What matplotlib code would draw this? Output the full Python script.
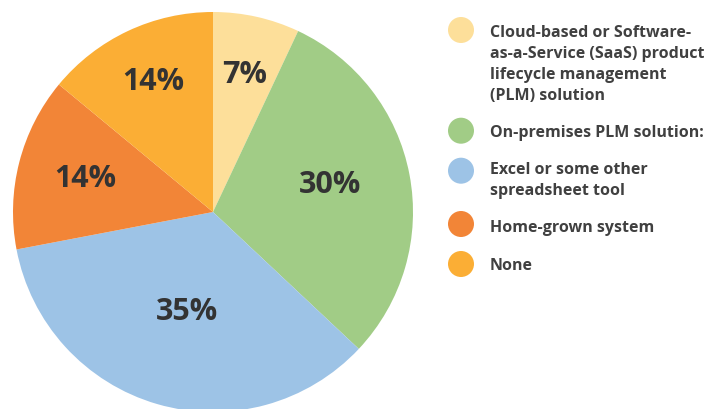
import matplotlib
matplotlib.use("Agg")
import matplotlib.pyplot as plt
import numpy as np

# data
labels = ["Cloud-based or Software-\nas-a-Service (SaaS) product\nlifecycle management\n(PLM) solution",
          "On-premises PLM solution:",
          "Excel or some other\nspreadsheet tool",
          "Home-grown system",
          "None"]
values = [7, 30, 35, 14, 14]
colors = ["#FDDF9A", "#A1CC86", "#9DC3E6", "#F28537", "#FBAE35"]

# label centres inside the pie (unit-radius coords)
label_pos = [(0.16, 0.695), (0.585, 0.145), (-0.128, -0.49), (-0.64, 0.175), (-0.30, 0.66)]

plt.rcParams['font.family'] = ['Open Sans', 'DejaVu Sans']
txt_col = "#333333"

W, H = 723, 409
fig = plt.figure(figsize=(W / 100, H / 100), dpi=100)

# pie, centre (213, 212) px from top-left, radius 200
cx, cy, r = 213, 212, 200
ax = fig.add_axes([(cx - r) / W, (H - cy - r) / H, 2 * r / W, 2 * r / H])
ax.pie(values, colors=colors, startangle=90, counterclock=False,
       wedgeprops=dict(linewidth=0), radius=1)
ax.set_xlim(-1, 1)
ax.set_ylim(-1, 1)
ax.set_aspect('equal')
ax.axis('off')

for v, (x, y) in zip(values, label_pos):
    # baseline placed half a cap height (~10px) below the centre
    ax.text(x, y - 0.051, f"{v}%", ha='center', va='baseline',
            fontsize=22, fontweight='bold', color=txt_col)

# legend drawn in pixel coordinates
lax = fig.add_axes([0, 0, 1, 1])
lax.set_xlim(0, W)
lax.set_ylim(H, 0)
lax.axis('off')
marker_y = [30, 130.7, 170.7, 224, 264]
base_y = [36.7, 137.3, 174.3, 231.7, 270]
for lab, col, my, by in zip(labels, colors, marker_y, base_y):
    lax.add_patch(plt.Circle((461, my), 13, color=col, lw=0))
    for i, line in enumerate(lab.split("\n")):
        lax.text(490, by + 21 * i, line, ha='left', va='baseline', fontsize=11.5,
                 fontweight='bold', color="#404040")

fig.savefig("out.png", dpi=100)
